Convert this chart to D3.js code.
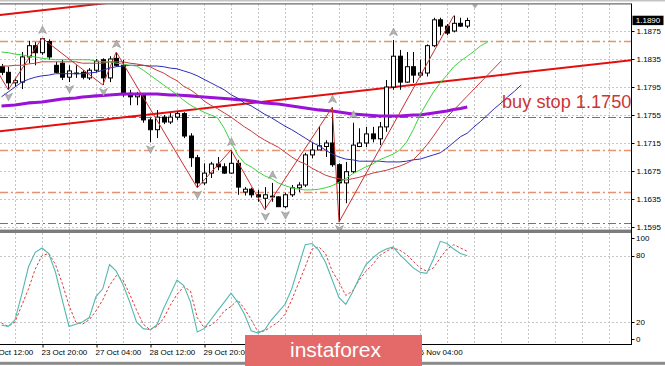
<!DOCTYPE html>
<html><head><meta charset="utf-8">
<script src="https://cdn.jsdelivr.net/npm/d3@7"></script>
<style>
html,body{margin:0;padding:0;background:#fff;overflow:hidden;}
svg{display:block;}
text{font-family:"Liberation Sans",Arial,sans-serif;}
</style></head><body>
<svg id="c" width="665" height="366"></svg>
<script>
// ---------------- DATA ----------------
const opens  = [1.1824,1.1816,1.1801,1.1802,1.1838,1.1854,1.1844,1.1860,1.1826,1.1829,
                1.1809,1.1815,1.1816,1.1808,1.1819,1.1834,1.1808,1.1836,1.1826,1.1786,
                1.1781,1.1784,1.1748,1.1734,1.1752,1.1745,1.1752,1.1757,1.1725,1.1694,
                1.1658,1.1672,1.1685,1.1681,1.1672,1.1686,1.1645,1.1649,1.1641,1.1636,
                1.1639,1.1638,1.1624,1.1641,1.1651,1.1655,1.1698,1.1705,1.1710,1.1715,
                1.1684,1.1658,1.1674,1.1710,1.1715,1.1728,1.1721,1.1738,1.1795,1.1839,
                1.1802,1.1824,1.1812,1.1815,1.1854,1.1891,1.1882,1.1875,1.1886,1.1882];
const highs  = [1.1828,1.1824,1.1808,1.1845,1.1861,1.1859,1.1865,1.1863,1.1831,1.1834,
                1.1826,1.1826,1.1819,1.1822,1.1835,1.1836,1.1839,1.1845,1.1834,1.1791,
                1.1788,1.1786,1.1751,1.1762,1.1755,1.1758,1.1760,1.1759,1.1729,1.1698,
                1.1686,1.1688,1.1695,1.1686,1.1705,1.1691,1.1652,1.1651,1.1648,1.1652,
                1.1658,1.1639,1.1644,1.1655,1.1659,1.1701,1.1715,1.1738,1.1719,1.1766,
                1.1686,1.1688,1.1744,1.1736,1.1738,1.1738,1.1745,1.1805,1.1862,1.1848,
                1.1845,1.1845,1.1834,1.1856,1.1894,1.1894,1.1885,1.1897,1.1894,1.1894];
const lows   = [1.1812,1.1791,1.1795,1.1792,1.1829,1.1826,1.1841,1.1834,1.1815,1.1805,
                1.1802,1.1808,1.1806,1.1805,1.1816,1.1798,1.1802,1.1824,1.1781,1.1769,
                1.1769,1.1744,1.1716,1.1722,1.1742,1.1742,1.1748,1.1722,1.1681,1.1651,
                1.1655,1.1665,1.1676,1.1671,1.1671,1.1641,1.1640,1.1637,1.1631,1.1620,
                1.1631,1.1624,1.1622,1.1638,1.1645,1.1652,1.1693,1.1705,1.1695,1.1681,
                1.1602,1.1629,1.1672,1.1709,1.1709,1.1716,1.1712,1.1731,1.1791,1.1791,
                1.1801,1.1801,1.1809,1.1810,1.1852,1.1869,1.1869,1.1873,1.1881,1.1879];
const closes = [1.1816,1.1801,1.1804,1.1838,1.1854,1.1844,1.1864,1.1838,1.1816,1.1809,
                1.1818,1.1814,1.1809,1.1819,1.1832,1.1808,1.1835,1.1826,1.1784,1.1781,
                1.1784,1.1748,1.1734,1.1752,1.1745,1.1752,1.1757,1.1725,1.1694,1.1658,
                1.1672,1.1685,1.1681,1.1672,1.1686,1.1652,1.1649,1.1641,1.1638,1.1641,
                1.1638,1.1624,1.1641,1.1651,1.1655,1.1698,1.1705,1.1711,1.1715,1.1684,
                1.1658,1.1674,1.1712,1.1715,1.1728,1.1721,1.1738,1.1795,1.1839,1.1802,
                1.1824,1.1812,1.1815,1.1854,1.1891,1.1882,1.1872,1.1886,1.1882,1.1890];

// Alligator-style moving averages (index = bar; they run past the last bar)
const lipsMA  = [1.1845,1.1844,1.1842,1.1841,1.1839,1.1838,1.1836,1.1835,1.1834,1.1834,
                 1.1834,1.1834,1.1834,1.1834,1.1832,1.1831,1.1831,1.1829,1.1828,1.1826,
                 1.1825,1.1819,1.1812,1.1805,1.1798,1.1791,1.1784,1.1776,1.1769,1.1764,
                 1.1759,1.1755,1.1751,1.1736,1.1716,1.1698,1.1686,1.1681,1.1674,1.1668,
                 1.1664,1.1658,1.1654,1.1651,1.1649,1.1648,1.1648,1.1649,1.1651,1.1654,
                 1.1659,1.1664,1.1671,1.1676,1.1681,1.1685,1.1691,1.1695,1.1699,1.1705,
                 1.1716,1.1734,1.1755,1.1772,1.1788,1.1801,1.1812,1.1824,1.1832,1.1839,
                 1.1846,1.1854,1.1859];
const teethMA = [1.1825,1.1825,1.1826,1.1826,1.1828,1.1829,1.1831,1.1831,1.1831,1.1831,
                 1.1831,1.1831,1.1829,1.1829,1.1829,1.1829,1.1831,1.1831,1.1831,1.1829,
                 1.1828,1.1826,1.1824,1.1819,1.1815,1.1809,1.1804,1.1796,1.1791,1.1784,
                 1.1775,1.1769,1.1764,1.1758,1.1752,1.1745,1.1738,1.1732,1.1725,1.1719,
                 1.1714,1.1709,1.1702,1.1695,1.1689,1.1685,1.1679,1.1674,1.1669,1.1666,
                 1.1664,1.1662,1.1664,1.1666,1.1669,1.1672,1.1674,1.1676,1.1679,1.1682,
                 1.1686,1.1691,1.1701,1.1712,1.1725,1.1739,1.1752,1.1762,1.1772,1.1782,
                 1.1792,1.1802,1.1812,1.1822,1.1832];
const jawMA   = [1.1781,1.1788,1.1795,1.1802,1.1806,1.1809,1.1811,1.1812,1.1814,1.1814,
                 1.1814,1.1814,1.1814,1.1815,1.1816,1.1819,1.1822,1.1824,1.1825,1.1826,
                 1.1826,1.1826,1.1825,1.1825,1.1824,1.1822,1.1821,1.1818,1.1815,1.1811,
                 1.1806,1.1801,1.1796,1.1791,1.1784,1.1779,1.1772,1.1768,1.1762,1.1756,
                 1.1751,1.1745,1.1739,1.1734,1.1728,1.1722,1.1716,1.1711,1.1705,1.1699,
                 1.1695,1.1692,1.1691,1.1689,1.1689,1.1689,1.1689,1.1688,1.1688,1.1688,
                 1.1689,1.1691,1.1692,1.1695,1.1698,1.1701,1.1708,1.1716,1.1724,1.1729,
                 1.1738,1.1746,1.1755,1.1764,1.1772,1.1781,1.1789,1.1798];
const slowMA  = [1.17679,1.17686,1.17693,1.17707,1.17722,1.17729,1.17736,1.17750,1.17764,1.17779,
                 1.17786,1.17793,1.17807,1.17814,1.17822,1.17829,1.17836,1.17843,1.17850,1.17850,
                 1.17850,1.17850,1.17850,1.17850,1.17843,1.17836,1.17836,1.17829,1.17822,1.17814,
                 1.17807,1.17800,1.17793,1.17786,1.17779,1.17771,1.17764,1.17750,1.17736,1.17722,
                 1.17714,1.17707,1.17693,1.17679,1.17664,1.17650,1.17636,1.17622,1.17614,1.17607,
                 1.17593,1.17579,1.17564,1.17557,1.17550,1.17543,1.17536,1.17536,1.17536,1.17536,
                 1.17543,1.17550,1.17550,1.17564,1.17579,1.17593,1.17607,1.17629,1.17643,1.17664];

const zigzagBars   = [-2, 1, 6, 15, 17, 29, 34, 39, 49, 50, 67];
const zigzagPrices = [1.1840,1.1791,1.1865,1.1798,1.1845,1.1651,1.1705,1.1620,1.1766,1.1602,1.1897];
const fractalUpBars   = [6, 17, 34, 40, 49, 52, 58];
const fractalDownBars = [1, 10, 15, 22, 29, 39, 42, 50];

const channelLower = [[-1, 1.17309], [94, 1.18340]];
const channelUpper = [[-1, 1.18970], [94, 1.20001]];
const levelsOrange = [1.1861, 1.1705, 1.1645];
const levelsGreen  = [1.1752, 1.1600];

const stochMain = [17,16,22,45,70,83,87,82,65,40, 16,18,20,24,43,50,72,66,54,38,
                   20,14,13,17,32,45,58,53,38,11, 14,22,30,38,46,38,27,12,10,13,
                   22,29,36,50,70,90,91,85,74,58, 42,36,47,60,72,78,83,86,88,81,
                   75,69,65,64,77,93,91,86,82,80];
const stochSig  = [19,16,20,35,50,68,80,82,72,55, 35,20,18,22,30,40,53,62,58,45,
                   31,18,13,16,23,35,45,52,48,24, 15,17,22,30,34,40,32,22,11,12,
                   16,20,27,40,55,70,86,88,82,66, 56,44,48,58,66,72,80,84,87,85,
                   81,75,69,66,69,78,86,90,87,84];

const priceTicks = [1.1595,1.1635,1.1675,1.1715,1.1755,1.1795,1.1835,1.1875];
const currentPrice = 1.1890;
const stochTicks = [100, 80, 20, 0];
const stochGrid = [80, 20];
const xTickBars = [-2, 6, 14, 22, 30, 38, 46, 54, 62];
const xTickLabels = ["22 Oct 12:00","23 Oct 20:00","27 Oct 04:00","28 Oct 12:00","29 Oct 20:00",
                     "2 Nov 04:00","3 Nov 12:00","4 Nov 20:00","6 Nov 04:00"];
const gridBars = [2,6,10,14,18,22,26,30,34,38,42,46,50,54,58,62,66,70,74,78,82,86,90];
const annotation = "buy stop 1.1750";
const watermark = "instaforex";

// ---------------- LAYOUT ----------------
const W = 665, H = 366;
const plotR = 631, mainTop = 4, mainBot = 230, subTop = 233.6, subBot = 344.1;
const wmX = 245, wmY = 335, wmW = 177;
const svg = d3.select("#c");
const x = d3.scaleLinear().domain([0, 92]).range([1.5, 622.5]);
const y = d3.scaleLinear().domain([1.15907, 1.19136]).range([mainBot, mainTop]);
const y2 = d3.scaleLinear().domain([0, 100]).range([subBot, subTop]);
const px = i => Math.round(x(i)) + 0.5;

const defs = svg.append("defs");
defs.append("clipPath").attr("id","cm").append("rect")
  .attr("x",0).attr("y",mainTop).attr("width",plotR).attr("height",mainBot-mainTop);
defs.append("clipPath").attr("id","cs").append("rect")
  .attr("x",0).attr("y",233).attr("width",plotR).attr("height",112);

svg.append("rect").attr("width",W).attr("height",H).attr("fill","#fff");

// ---------- main panel ----------
const gm = svg.append("g").attr("clip-path","url(#cm)");
gm.selectAll(".vg").data(gridBars).join("line")
  .attr("x1",d=>px(d)).attr("x2",d=>px(d)).attr("y1",mainTop).attr("y2",mainBot)
  .attr("stroke","#c6c6c6").attr("stroke-dasharray","2,2");
gm.selectAll(".hg").data(priceTicks).join("line")
  .attr("x1",0).attr("x2",plotR).attr("y1",d=>Math.round(y(d))+0.5).attr("y2",d=>Math.round(y(d))+0.5)
  .attr("stroke","#c6c6c6").attr("stroke-dasharray","2,2");
gm.selectAll(".lo").data(levelsOrange).join("line")
  .attr("x1",0).attr("x2",plotR).attr("y1",d=>Math.round(y(d))+0.5).attr("y2",d=>Math.round(y(d))+0.5)
  .attr("stroke","#e79272").attr("stroke-width",1.3).attr("stroke-dasharray","8,3,2,3");
gm.selectAll(".lg").data(levelsGreen).join("line")
  .attr("x1",0).attr("x2",plotR).attr("y1",d=>Math.round(y(d))+0.5).attr("y2",d=>Math.round(y(d))+0.5)
  .attr("stroke","#3d9a3d").attr("stroke-width",1.2).attr("stroke-dasharray","8,3,2,3");
[channelLower, channelUpper].forEach(c=>{
  gm.append("line").attr("x1",x(c[0][0])).attr("y1",y(c[0][1]))
    .attr("x2",x(c[1][0])).attr("y2",y(c[1][1]))
    .attr("stroke","#e30e0e").attr("stroke-width",2);
});

// candles
const bars = d3.range(opens.length).map(i=>({i,o:opens[i],h:highs[i],l:lows[i],c:closes[i]}));
const cg = gm.append("g");
cg.selectAll(".wk").data(bars).join("line")
  .attr("x1",d=>px(d.i)).attr("x2",d=>px(d.i)).attr("y1",d=>y(d.h)).attr("y2",d=>y(d.l))
  .attr("stroke","#000").attr("stroke-width",1);
cg.selectAll(".bd").data(bars).join("rect")
  .attr("x",d=>px(d.i)-2).attr("width",4)
  .attr("y",d=>y(Math.max(d.o,d.c)))
  .attr("height",d=>Math.max(0.6, Math.abs(y(d.o)-y(d.c))))
  .attr("fill",d=>d.c>=d.o?"#fff":"#000").attr("stroke","#000").attr("stroke-width",1);

// moving averages
const mkLine = arr => d3.line().x((d,i)=>x(i)).y(d=>y(d))(arr);
gm.append("path").attr("d",mkLine(slowMA)).attr("fill","none")
  .attr("stroke","#9a12d8").attr("stroke-width",3.2).attr("stroke-linejoin","round");
gm.append("path").attr("d",mkLine(jawMA)).attr("fill","none").attr("stroke","#2d2db8").attr("stroke-width",1);
gm.append("path").attr("d",mkLine(teethMA)).attr("fill","none").attr("stroke","#c83c3c").attr("stroke-width",1);
gm.append("path").attr("d",mkLine(lipsMA)).attr("fill","none").attr("stroke","#3ed23e").attr("stroke-width",1);
gm.append("path").attr("d",d3.line().x(d=>x(d[0])).y(d=>y(d[1]))(zigzagBars.map((b,k)=>[b,zigzagPrices[k]])))
  .attr("fill","none").attr("stroke","#c43030").attr("stroke-width",1);

// fractal arrows
const arrowUp = "M0,-4 L4,3.5 L0,1.5 L-4,3.5 Z";
const arrowDn = "M0,4 L4,-3.5 L0,-1.5 L-4,-3.5 Z";
gm.selectAll(".fu").data(fractalUpBars).join("path")
  .attr("d",arrowUp).attr("transform",d=>`translate(${px(d)},${y(highs[d])-8})`)
  .attr("fill","#b4b4b4").attr("stroke","#8c8c8c").attr("stroke-width",0.6);
gm.selectAll(".fd").data(fractalDownBars).join("path")
  .attr("d",arrowDn).attr("transform",d=>`translate(${px(d)},${y(lows[d])+7})`)
  .attr("fill","#b4b4b4").attr("stroke","#8c8c8c").attr("stroke-width",0.6);

// chart shift marker
svg.append("path").attr("d","M472,4.5 L478,4.5 L475,8.5 Z").attr("fill","#a8a8a8");

// annotation
svg.append("text").attr("x",502).attr("y",108).attr("font-size",18.2)
  .attr("fill","#cc3535").text(annotation);

// ---------- sub panel (stochastic) ----------
const gs = svg.append("g").attr("clip-path","url(#cs)");
gs.selectAll(".vg2").data(gridBars).join("line")
  .attr("x1",d=>px(d)).attr("x2",d=>px(d)).attr("y1",233).attr("y2",345)
  .attr("stroke","#c6c6c6").attr("stroke-dasharray","2,2");
gs.selectAll(".hg2").data(stochGrid).join("line")
  .attr("x1",0).attr("x2",plotR).attr("y1",d=>Math.round(y2(d))+0.5).attr("y2",d=>Math.round(y2(d))+0.5)
  .attr("stroke","#c6c6c6").attr("stroke-dasharray","2,2");
const sLine = d3.line().x((d,i)=>x(i)).y(d=>y2(d));
gs.append("path").attr("d",sLine(stochSig)).attr("fill","none")
  .attr("stroke","#de3a3a").attr("stroke-width",1).attr("stroke-dasharray","2.5,2");
gs.append("path").attr("d",sLine(stochMain)).attr("fill","none")
  .attr("stroke","#52b8ae").attr("stroke-width",1.1);

// ---------- frames ----------
svg.append("line").attr("x1",0).attr("x2",W).attr("y1",0.8).attr("y2",0.8).attr("stroke","#c4c4c4").attr("stroke-width",1.6);
svg.append("line").attr("x1",0).attr("x2",plotR).attr("y1",3.8).attr("y2",3.8).attr("stroke","#6a6a6a").attr("stroke-width",1.2);
svg.append("rect").attr("x",0).attr("y",229.6).attr("width",plotR).attr("height",3.4).attr("fill","#7c7c7c");
svg.append("line").attr("x1",0).attr("x2",plotR+0.5).attr("y1",344.5).attr("y2",344.5).attr("stroke","#000");
svg.append("line").attr("x1",plotR+0.5).attr("x2",plotR+0.5).attr("y1",3.5).attr("y2",345).attr("stroke","#000");
svg.append("rect").attr("x",0).attr("y",361.8).attr("width",W).attr("height",3).attr("fill","#8a8a8a");

// ---------- axes ----------
const ay = svg.append("g").attr("transform",`translate(${plotR+0.5},0)`)
  .call(d3.axisRight(y).tickValues(priceTicks).tickFormat(d3.format(".4f")).tickSize(3).tickPadding(2));
ay.select(".domain").remove();
ay.selectAll("text").attr("font-size",8).attr("font-family","Liberation Sans, Arial, sans-serif").attr("fill","#000");
ay.selectAll("line").attr("stroke","#000");

const cy = y(currentPrice);
svg.append("rect").attr("x",632.5).attr("y",cy-4.8).attr("width",31).attr("height",9.4).attr("fill","#000");
svg.append("text").attr("x",648).attr("y",cy).attr("dy","0.34em").attr("text-anchor","middle")
  .attr("font-size",8).attr("fill","#fff").text(d3.format(".4f")(currentPrice));

const sPos = d => d===100 ? y2(d)+4.6 : d===0 ? y2(d)-5.2 : y2(d);
const as = svg.append("g");
as.selectAll("text").data(stochTicks).join("text")
  .attr("x",636).attr("y",sPos).attr("dy","0.34em").attr("font-size",8).attr("fill","#000").text(d=>d);
as.selectAll("line").data(stochTicks).join("line")
  .attr("x1",plotR+0.5).attr("x2",plotR+3.5)
  .attr("y1",d=>Math.round(sPos(d))+0.5).attr("y2",d=>Math.round(sPos(d))+0.5)
  .attr("stroke","#000");

// time axis (labels fully hidden under the watermark are not drawn)
const shownTicks = xTickBars.map((b,k)=>({b,k})).filter(t=>{
  const sx = x(t.b) - 1; return !(sx >= wmX && sx + 45 <= wmX + wmW);
});
const ax = svg.append("g").attr("transform","translate(0,344.5)")
  .call(d3.axisBottom(x).tickValues(xTickBars).tickFormat((d,i)=>xTickLabels[i]).tickSize(3));
ax.select(".domain").remove();
ax.selectAll(".tick").filter(d=>!shownTicks.some(t=>t.b===d)).select("text").remove();
ax.selectAll(".tick line").attr("stroke","#000").attr("transform","translate(0.5,0)");
ax.selectAll("text").attr("font-size",8).attr("fill","#000").attr("text-anchor","start")
  .attr("x",-1).attr("y",5).attr("font-family","Liberation Sans, Arial, sans-serif");

// watermark
svg.append("rect").attr("x",wmX).attr("y",wmY).attr("width",wmW).attr("height",31).attr("fill","#e46a6a");
svg.append("text").attr("x",290).attr("y",357).attr("font-size",21).attr("font-weight",300)
  .attr("font-family","Roboto, 'Open Sans', sans-serif").attr("fill","#fff").text(watermark);
</script>
</body></html>
